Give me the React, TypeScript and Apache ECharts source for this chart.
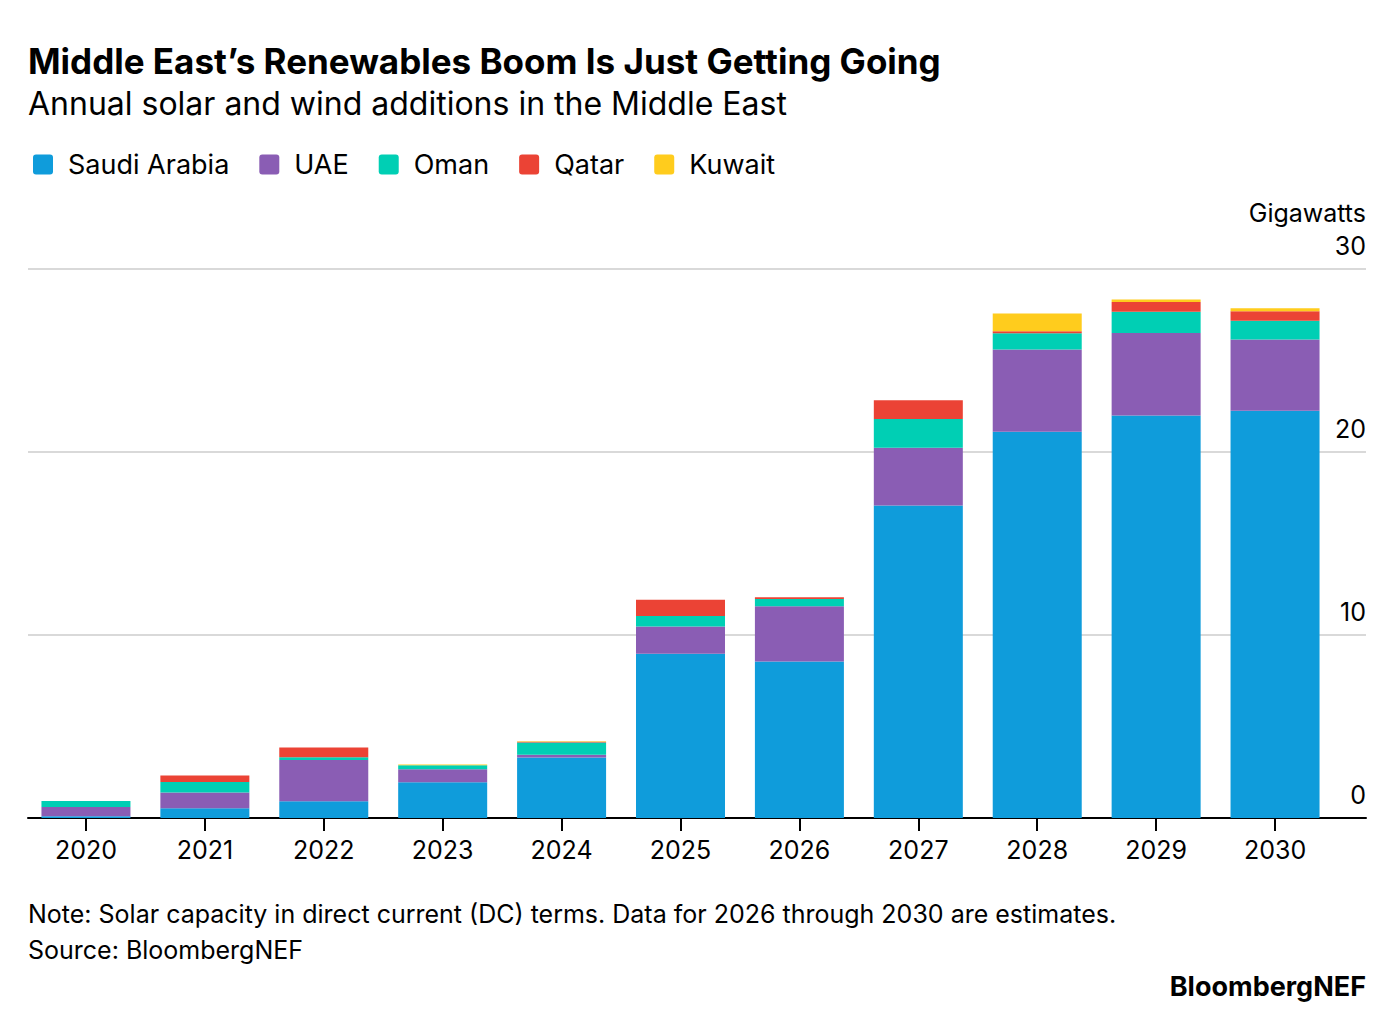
import React, { useEffect, useRef } from 'react';
import * as echarts from 'echarts';

const years = ['2020', '2021', '2022', '2023', '2024', '2025', '2026', '2027', '2028', '2029', '2030'];
const saudiArabia = [0.1, 0.53, 0.91, 1.95, 3.3, 8.97, 8.55, 17.08, 21.1, 22.0, 22.25];
const uae = [0.5, 0.86, 2.26, 0.71, 0.15, 1.49, 3.02, 3.15, 4.5, 4.5, 3.9];
const oman = [0.33, 0.58, 0.15, 0.22, 0.68, 0.58, 0.4, 1.58, 0.89, 1.17, 1.02];
const qatar = [0, 0.35, 0.53, 0, 0.03, 0.89, 0.09, 1.02, 0.11, 0.52, 0.52];
const kuwait = [0, 0, 0, 0.05, 0.03, 0, 0, 0, 0.97, 0.15, 0.16];

const seriesNames = ['Saudi Arabia', 'UAE', 'Oman', 'Qatar', 'Kuwait'];
const seriesColors = ['#0f9cdb', '#8a5db4', '#00cfb4', '#eb4335', '#ffcc1d'];

const FONT = 'Inter, "Liberation Sans", Arial, sans-serif';
// rounded square legend marker
const SQUARE = 'path://M3,0 H17 Q20,0 20,3 V17 Q20,20 17,20 H3 Q0,20 0,17 V3 Q0,0 3,0 Z';

const App: React.FC = () => {
  const chartRef = useRef<HTMLDivElement>(null);

  useEffect(() => {
    document.body.style.margin = '0';
    if (!chartRef.current) return;
    const chart = echarts.init(chartRef.current, undefined, { renderer: 'svg' });

    const dataSets = [saudiArabia, uae, oman, qatar, kuwait];

    const option = {
      animation: false,
      textStyle: { fontFamily: FONT },
      legend: {
        left: 28,
        top: 146,
        icon: SQUARE,
        itemWidth: 20,
        itemHeight: 20,
        itemGap: 30,
        textStyle: { fontSize: 27, color: '#000', fontFamily: FONT, padding: [0, 0, 0, 10] },
        data: seriesNames,
      },
      grid: [
        { left: 26.5, right: 61.5, top: 269, bottom: 212 },
        { left: 28, right: 30, top: 269, bottom: 212 },
      ],
      xAxis: [
        {
          type: 'category',
          gridIndex: 0,
          data: years,
          axisLine: { show: false },
          axisTick: { show: true, alignWithLabel: true, length: 13, lineStyle: { color: '#000', width: 2 } },
          axisLabel: { fontSize: 25, color: '#000', margin: 19, fontFamily: FONT },
        },
        {
          type: 'value',
          gridIndex: 1,
          min: 0,
          max: 1,
          axisLine: { show: true, onZero: false, lineStyle: { color: '#000', width: 2 } },
          axisTick: { show: false },
          axisLabel: { show: false },
          splitLine: { show: false },
        },
      ],
      yAxis: [
        { type: 'value', gridIndex: 0, min: 0, max: 30, show: false },
        {
          type: 'value',
          gridIndex: 1,
          position: 'right',
          min: 0,
          max: 30,
          interval: 10,
          axisLine: { show: false },
          axisTick: { show: false },
          splitLine: { show: true, lineStyle: { color: '#cccccc', width: 1.5 } },
          axisLabel: {
            inside: true,
            margin: 0,
            align: 'right',
            verticalAlign: 'bottom',
            padding: [0, 0, 11, 0],
            fontSize: 25,
            color: '#000',
            fontFamily: FONT,
          },
        },
      ],
      series: seriesNames.map((name, i) => ({
        name,
        type: 'bar',
        stack: 'total',
        xAxisIndex: 0,
        yAxisIndex: 0,
        barWidth: 89,
        itemStyle: { color: seriesColors[i] },
        data: dataSets[i],
      })),
      graphic: [
        {
          type: 'text',
          left: 28,
          top: 43,
          style: {
            text: 'Middle East\u2019s Renewables Boom Is Just Getting Going',
            font: `bold 35px ${FONT}`,
            fill: '#000',
          },
        },
        {
          type: 'text',
          left: 28,
          top: 87,
          style: {
            text: 'Annual solar and wind additions in the Middle East',
            font: `32px ${FONT}`,
            fill: '#000',
          },
        },
        {
          type: 'text',
          right: 30,
          top: 200,
          style: { text: 'Gigawatts', font: `25px ${FONT}`, fill: '#000' },
        },
        {
          type: 'text',
          left: 28,
          top: 901,
          style: {
            text: 'Note: Solar capacity in direct current (DC) terms. Data for 2026 through 2030 are estimates.',
            font: `25px ${FONT}`,
            fill: '#000',
          },
        },
        {
          type: 'text',
          left: 28,
          top: 937,
          style: { text: 'Source: BloombergNEF', font: `25px ${FONT}`, fill: '#000' },
        },
        {
          type: 'text',
          right: 30,
          top: 973,
          style: { text: 'BloombergNEF', font: `bold 27px ${FONT}`, fill: '#000' },
        },
      ],
    };

    chart.setOption(option);
    return () => {
      chart.dispose();
    };
  }, []);

  return <div ref={chartRef} style={{ width: 1396, height: 1030 }} />;
};

export default App;
